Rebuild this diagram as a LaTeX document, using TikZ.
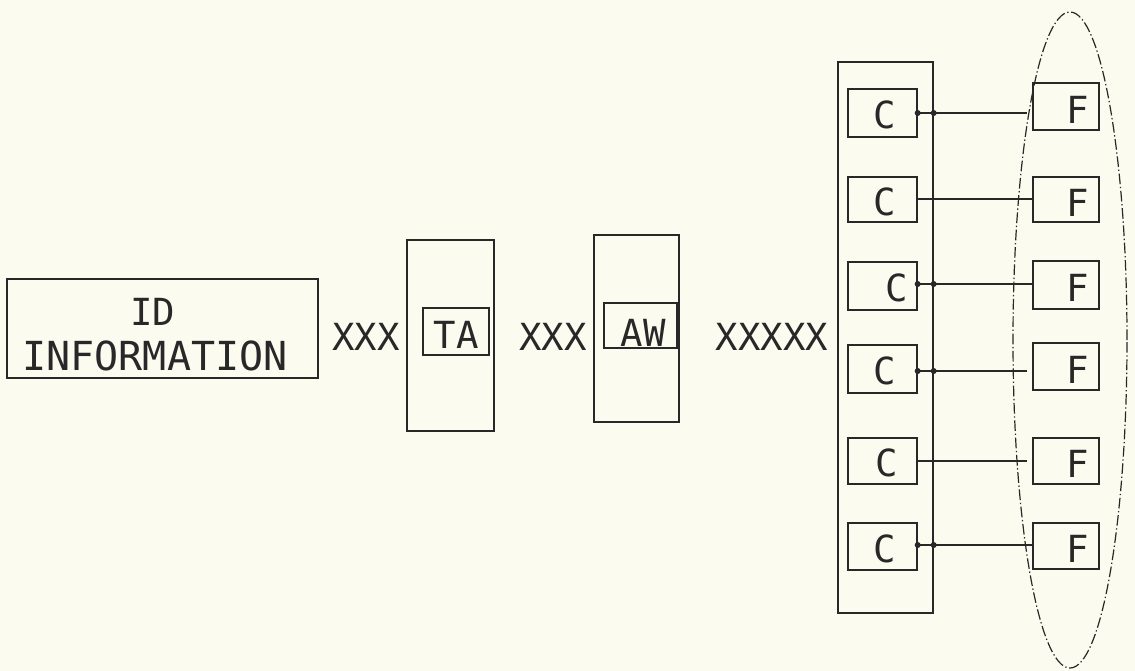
\documentclass[tikz,border=0pt]{standalone}
\usepackage{fontspec}
\setmonofont{DejaVu Sans Mono}
\usetikzlibrary{fit,shapes.geometric}
\definecolor{paper}{RGB}{251,251,240}
\definecolor{ink}{RGB}{40,40,40}
\begin{document}
\begin{tikzpicture}[x=0.75pt,y=-0.75pt,
  frame/.style={draw=ink,line width=1pt,inner sep=0pt},
  lbl/.style={inner sep=0pt,text=ink,font=\ttfamily\fontsize{28}{30}\selectfont},
  wire/.style={draw=ink,line width=1pt},
  joint/.style={fill=ink,draw=none,circle,inner sep=0pt,minimum size=4.5pt}]
  % page
  \fill[paper] (0,0) rectangle (1135,671);
  \useasboundingbox (0,0) rectangle (1135,671);

  % identification block
  \node[frame,fit={(7,279) (318,378)}] (id) {};
  \node[lbl] (idtop) at (153,312) {ID};
  \node[lbl,font=\ttfamily\fontsize{30}{32}\selectfont] (idbot) at (155,356) {INFORMATION};
  \node[lbl] (x1) at (366,337) {XXX};

  % TA column
  \node[frame,fit={(407,240) (494,431)}] (tacol) {};
  \node[frame,fit={(423,308) (489,355)}] (ta) {};
  \node[lbl] (talbl) at (456,335) {TA};
  \node[lbl] (x2) at (553,337) {XXX};

  % AW column
  \node[frame,fit={(594,235) (679,422)}] (awcol) {};
  \node[frame,fit={(604,303) (677,348)}] (aw) {};
  \node[lbl] (awlbl) at (643,333) {AW};
  \node[lbl] (x3) at (772,337) {XXXXX};

  % C column
  \node[frame,fit={(838,62) (933,613)}] (ccol) {};
  \foreach \i/\ya/\yb/\tx in {1/89/137/885, 2/177/222/885, 3/262/310/897,
                             4/345/393/885, 5/438/484/887, 6/523/570/885}{
    \node[frame,fit={(848,\ya) (917,\yb)}] (c\i) {};
    \node[lbl] (cl\i) at (\tx,{(\ya+\yb)/2+2}) {C};
  }

  % F group
  \node[draw=ink,line width=0.9pt,dash pattern=on 8pt off 2pt on 1pt off 2pt,
        ellipse,minimum width=114*0.75pt,minimum height=656*0.75pt,inner sep=0pt]
        (grp) at (1070,340) {};
  \foreach \i/\ya/\yb in {1/83/130, 2/177/222, 3/261/309,
                          4/343/390, 5/438/484, 6/523/569}{
    \node[frame,fit={(1033,\ya) (1099,\yb)}] (f\i) {};
    \node[lbl] (fl\i) at (1078,{(\ya+\yb)/2+3}) {F};
  }

  % links from C to F
  \foreach \i/\y/\gap in {1/113/5, 2/199/0, 3/284/0, 4/371/5, 5/461/5, 6/545/0}{
    \coordinate (cs\i) at (c\i.east |- 0,\y);
    \coordinate (fe\i) at (f\i.west |- 0,\y);
    \draw[wire,shorten >=\gap*0.75pt] (cs\i) -- (fe\i);
  }
  \foreach \i in {1,3,4,6}{
    \node[joint] (ja\i) at (cs\i) {};
    \node[joint] (jb\i) at (ccol.east |- cs\i) {};
  }
\end{tikzpicture}
\end{document}
